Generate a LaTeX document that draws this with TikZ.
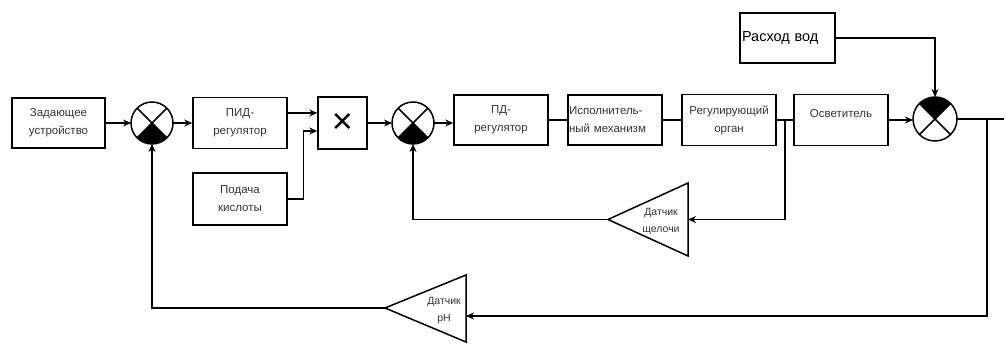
\documentclass[tikz,border=0pt]{standalone}
\usepackage{fontspec}
\setmainfont{Liberation Sans}
\usetikzlibrary{arrows.meta,calc}
\begin{document}
\begin{tikzpicture}[x=1pt,y=1pt,
  line width=1.5pt,
  blk/.style={draw, minimum width=94pt, minimum height=51pt, inner sep=1pt, align=center,
              font=\fontsize{11.5}{18}\selectfont, text=black!80},
  sumnode/.style={draw, circle, minimum size=42pt, inner sep=0pt, outer sep=0pt},
  arr/.style={-{Stealth[length=8pt,width=7pt]}},
  lbl/.style={font=\fontsize{10.5}{17}\selectfont, align=center, text=black!80, inner sep=0pt}
]
\useasboundingbox (0,0) rectangle (1006,345);

% blocks
\node[blk, minimum width=93pt, minimum height=50pt] (zad) at (58.5,222) {Задающее\\устройство};
\node[blk] (pid) at (240,222) {ПИД-\\регулятор};
\node[blk, minimum height=52pt] (pod) at (240,146) {Подача\\кислоты};
\node[draw, minimum width=49pt, minimum height=52pt, inner sep=0pt,
      font=\fontsize{36}{36}\selectfont] (mul) at (342.5,222) {×};
\node[blk, minimum height=50pt] (pd) at (501,225) {ПД-\\регулятор};
\node[blk, minimum height=50pt, text width=92pt, align=left, inner sep=1pt] (isp) at (615,225)
  {Исполнитель-\\ный механизм};
\node[blk] (reg) at (729,225) {Регулирующий\\орган};
\node[blk] (osv) at (841,225) {};
\node[font=\fontsize{11.5}{18}\selectfont, text=black!80, inner sep=0pt] (osvt) at (841,231) {Осветитель};
\node[draw, minimum width=95pt, minimum height=50pt, text width=91pt, align=left, inner sep=2pt,
      font=\fontsize{14.5}{18}\selectfont] (ras) at (787.5,307) {Расход вод};

% summing junctions
\node[sumnode] (s1) at (152,222) {};
\node[sumnode] (s2) at (413,222) {};
\node[sumnode, minimum size=44pt] (s3) at (935,226) {};
\fill (s1.center) -- (s1.-135) arc[start angle=-135,end angle=-45,radius=21pt] -- cycle;
\fill (s2.center) -- (s2.-135) arc[start angle=-135,end angle=-45,radius=21pt] -- cycle;
\fill (s3.center) -- (s3.45) arc[start angle=45,end angle=135,radius=22pt] -- cycle;
\foreach \s in {s1,s2,s3}{
  \draw (\s.north west) -- (\s.south east);
  \draw (\s.north east) -- (\s.south west);
}

% sensors (triangles)
\coordinate (tshA) at (608,125.5);
\coordinate (tshT) at (688,162);
\coordinate (tshB) at (688,89);
\coordinate (tshR) at (688,125.5);
\draw[line join=miter] (tshA) -- (tshT) -- (tshB) -- cycle;
\node[lbl] (tsh) at (661,124) {Датчик\\щелочи};

\coordinate (tphA) at (385,37);
\coordinate (tphT) at (466,70);
\coordinate (tphB) at (466,3);
\coordinate (tphR) at (466,29);
\draw[line join=miter] (tphA) -- (tphT) -- (tphB) -- cycle;
\node[lbl] (tph) at (444,35) {Датчик\\pH};

% connectors
\draw[arr] (zad.east) -- (s1.west);
\draw[arr] (s1.east) -- (pid.west);
\coordinate (p1) at ([yshift=10pt]pid.east);
\draw[arr] (p1) -- (p1 -| mul.west);
\coordinate (kin) at ([yshift=-8pt]mul.west);
\draw[arr] (pod.east) -| ([xshift=-14pt]kin) -- (kin);
\draw[arr] (mul.east) -- (s2.west);
\draw[arr] (s2.east) -- (s2.east -| pd.west);
\draw (pd.east) -- (isp.west);
\draw (isp.east) -- (reg.west);
\draw (reg.east) -- (osv.west);
\draw[arr] (osv.east) -- (osv.east -| s3.west);
\draw[arr] (ras.east) -| (s3.north);
\coordinate (out) at (1004,226);
\draw (s3.east) -- (out);

\coordinate (b1) at ($(reg.east)!0.5!(osv.west)$);
\draw[arr] (b1) |- (tshR);
\draw[arr] (tshA) -| (s2.south);

\coordinate (b2) at (987,226);
\draw[arr] (b2) |- (tphR);
\draw[arr] (tphA) -| (s1.south);
\end{tikzpicture}
\end{document}
